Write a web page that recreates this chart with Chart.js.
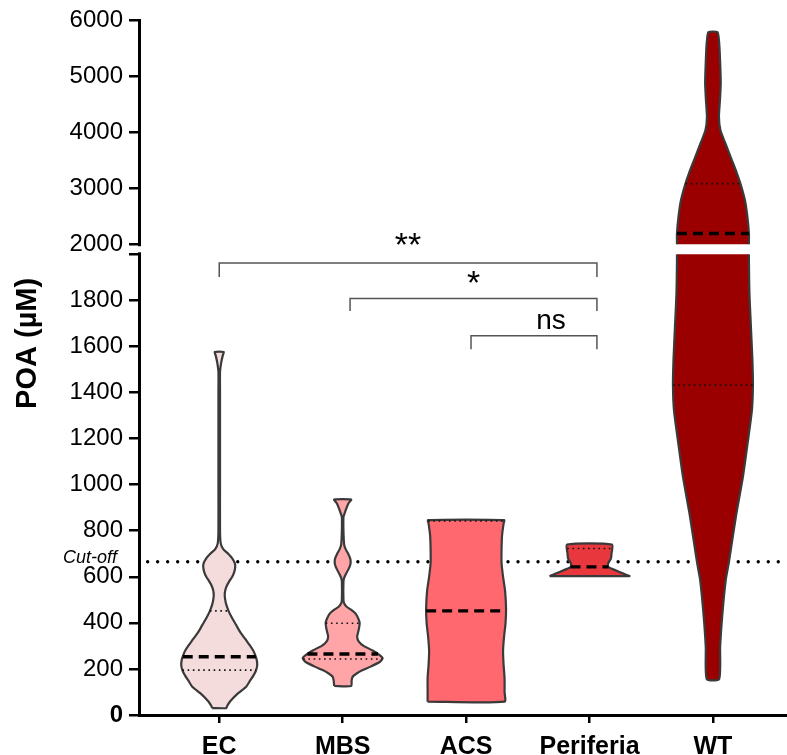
<!DOCTYPE html>
<html><head><meta charset="utf-8">
<script src="https://cdn.jsdelivr.net/npm/chart.js@4.4.1/dist/chart.umd.min.js"></script>
<style>html,body{margin:0;padding:0;background:#fff}</style>
</head><body>
<canvas id="c" width="787" height="755" style="display:block;width:787px;height:755px"></canvas>
<script>
// ---------- data ----------
const categories = ['EC', 'MBS', 'ACS', 'Periferia', 'WT'];

// violin outlines: values (µM) and relative half-widths (density)
const ecValues  = [30, 40, 60, 95, 123, 150, 170, 190, 215, 240, 260, 280, 300, 330, 360, 390, 420, 450, 480, 500, 520, 540, 560, 580, 600, 620, 643, 660, 680, 700, 720, 745, 800, 1000, 1200, 1400, 1490, 1530, 1560, 1576];
const ecWidths  = [7, 8, 11, 19, 27, 31, 34, 36.5, 38, 37.5, 36, 34, 31, 26, 21, 17, 13, 9.5, 7, 6, 5.5, 6, 7.5, 10, 13, 15, 16, 15.5, 13, 9, 4, 1.5, 0.8, 0.8, 0.8, 0.8, 0.8, 2, 3.5, 4.5];

const mbsValues = [126, 150, 166, 180, 195, 210, 230, 246, 260, 280, 300, 320, 340, 360, 380, 400, 420, 440, 455, 470, 485, 500, 580, 595, 610, 630, 650, 665, 680, 700, 720, 740, 800, 860, 870, 900, 920, 935];
const mbsWidths = [8.5, 9, 10, 14, 20, 28, 37, 40, 37, 30, 21, 16, 14.5, 15.5, 16.5, 17, 15.5, 13, 9, 4, 1.5, 0.8, 0.8, 1.5, 3, 5.5, 7.5, 8, 7.5, 5.5, 3, 1.5, 0.8, 0.8, 1.5, 4, 6, 8.5];

const acsValues = [58, 100, 160, 220, 280, 340, 400, 460, 540, 600, 660, 720, 780, 830, 846];
const acsWidths = [38.5, 38.5, 38.5, 37.5, 37, 38, 39.5, 40, 39, 37, 35.5, 35.5, 36, 37.5, 38];

const perValues = [603, 610, 620, 630, 638, 645, 655, 665, 680, 700, 740];
const perWidths = [40, 36, 30.5, 25, 20.5, 18.5, 18.5, 19.5, 21.5, 22, 22.5];

const wtValues  = [156, 296, 441, 586, 659, 730, 875, 1034, 1180, 1323, 1432, 1540, 1685, 1831, 1970, 2000, 2191, 2488, 2786, 3084, 3268, 3500, 3800, 4036, 4274, 4571, 4875, 5107, 5464, 5643, 5790];
const wtWidths  = [6.2, 7.2, 9.5, 12.8, 15.8, 18.3, 23.5, 30, 34.7, 39, 40, 39.5, 38, 36.5, 36, 36, 36, 34.5, 32, 27.5, 24, 19, 12.5, 7.5, 6, 7, 7.8, 7.5, 6.7, 6, 4.5];

const medians   = [253, 265, 452, 643, 2191];
const quartile1 = [195, 243, null, null, 1432];
const quartile3 = [452, 398, 842, 723, 3084];

const cutoff = 665;

// significance brackets (category positions and values)
const bracketFrom   = [1, 2.06, 3.04];
const bracketTo     = [4.06, 4.06, 4.06];
const bracketTop    = [1962, 1808, 1646];
const bracketDrop   = [1901, 1754, 1588];
const bracketLabels = ['**', '*', 'ns'];

const yLowerTicks = [0, 200, 400, 600, 800, 1000, 1200, 1400, 1600, 1800, 2000];
const yUpperTicks = [2000, 3000, 4000, 5000, 6000];
const axisBreak = 2000;

// ---------- styles ----------
const FONT = "'Liberation Sans', Arial, Helvetica, sans-serif";
const fills = ['#f5dcdc', '#ffa5a7', '#ff686e', '#e8383e', '#9b0000'];
const outlineColor = '#3a3a3a';
const WSCALE = 1 / 123.5;

const groups = [
  [ecValues, ecWidths], [mbsValues, mbsWidths], [acsValues, acsWidths],
  [perValues, perWidths], [wtValues, wtWidths]
];

function widthAt(vals, ws, v) {
  for (let i = 0; i < vals.length - 1; i++) {
    if (v >= vals[i] && v <= vals[i + 1]) {
      const t = (v - vals[i]) / (vals[i + 1] - vals[i]);
      return ws[i] + t * (ws[i + 1] - ws[i]);
    }
  }
  return v < vals[0] ? ws[0] : ws[ws.length - 1];
}

function outline(c, vals, ws, mode) {
  const left = vals.map((v, i) => ({x: c - ws[i] * WSCALE, y: v}));
  const right = vals.map((v, i) => ({x: c + ws[i] * WSCALE, y: v})).reverse();
  if (mode === 'openTop') return right.concat(left);
  if (mode === 'openBottom') return left.concat(right);
  return left.concat(right, [left[0]]);
}

const datasets = [];
const base = {showLine: true, pointRadius: 0, pointHoverRadius: 0, fill: false, tension: 0};

groups.forEach(([vals, ws], i) => {
  const c = i + 1;
  const violin = Object.assign({}, base, {
    fill: 'shape', backgroundColor: fills[i], borderColor: outlineColor,
    borderWidth: 2.2, tension: 0.2, order: 5, borderJoinStyle: 'round'
  });
  if (vals[vals.length - 1] <= axisBreak) {
    datasets.push(Object.assign({}, violin, {data: outline(c, vals, ws, 'closed'), yAxisID: 'y'}));
  } else {
    const li = vals.map((v, k) => k).filter(k => vals[k] <= axisBreak);
    const ui = vals.map((v, k) => k).filter(k => vals[k] >= axisBreak);
    datasets.push(Object.assign({}, violin, {
      data: outline(c, li.map(k => vals[k]), li.map(k => ws[k]), 'openTop'), yAxisID: 'y'}));
    datasets.push(Object.assign({}, violin, {
      data: outline(c, ui.map(k => vals[k]), ui.map(k => ws[k]), 'openBottom'), yAxisID: 'y2'}));
  }
});

function hLine(i, v, extra) {
  const [vals, ws] = groups[i];
  const w = widthAt(vals, ws, v) * WSCALE;
  return Object.assign({}, base, {
    data: [{x: i + 1 - w, y: v}, {x: i + 1 + w, y: v}],
    yAxisID: v > axisBreak ? 'y2' : 'y', borderColor: '#000'
  }, extra);
}
medians.forEach((m, i) => datasets.push(hLine(i, m, {borderWidth: 3.4, borderDash: [10, 6], order: 0})));
quartile1.concat(quartile3).forEach((q, k) => {
  if (q == null) return;
  datasets.push(hLine(k % 5, q, {borderWidth: 1.6, borderDash: [1.6, 3.6], borderColor: '#111', order: 1}));
});

// cut-off line
datasets.push(Object.assign({}, base, {
  data: [{x: 0.42, y: cutoff}, {x: 5.6, y: cutoff}], yAxisID: 'y',
  borderColor: '#000', borderWidth: 3.4, borderDash: [0.01, 10], borderCapStyle: 'round', order: 10
}));

// brackets
bracketFrom.forEach((f, i) => {
  datasets.push(Object.assign({}, base, {
    data: [{x: f, y: bracketDrop[i]}, {x: f, y: bracketTop[i]}, {x: bracketTo[i], y: bracketTop[i]}, {x: bracketTo[i], y: bracketDrop[i]}],
    yAxisID: 'y', borderColor: '#555', borderWidth: 1.5, order: 1
  }));
});

const annot = {
  id: 'annot',
  afterDatasetsDraw(chart) {
    const {ctx, chartArea, scales} = chart;
    const x = scales.x, y = scales.y, y2 = scales.y2;
    ctx.save();
    // axis break gap
    const pu = y2.getPixelForValue(axisBreak), pl = y.getPixelForValue(axisBreak);
    ctx.fillStyle = '#fff';
    ctx.fillRect(chartArea.left - 5, pu + 2, 10, pl - pu - 4);
    // bracket labels
    ctx.fillStyle = '#000';
    ctx.textAlign = 'center';
    ctx.textBaseline = 'alphabetic';
    bracketLabels.forEach((t, i) => {
      const mx = x.getPixelForValue((bracketFrom[i] + bracketTo[i]) / 2);
      const py = y.getPixelForValue(bracketTop[i]);
      if (t === 'ns') {
        ctx.font = '28px ' + FONT;
        ctx.fillText(t, mx + 17, py - 7);
      } else {
        ctx.font = '34px ' + FONT;
        ctx.fillText(t, mx, py - 4 - (i === 0 ? 3 : 0));
      }
    });
    // cut-off label
    ctx.font = 'italic 18px ' + FONT;
    ctx.textAlign = 'right';
    ctx.fillText('Cut-off', chartArea.left - 22, y.getPixelForValue(cutoff) + 1);
    // y title
    ctx.translate(28, chartArea.top + (chartArea.bottom - chartArea.top) * 0.465);
    ctx.rotate(-Math.PI / 2);
    ctx.textAlign = 'center';
    ctx.textBaseline = 'middle';
    ctx.font = 'bold 29px ' + FONT;
    ctx.fillText('POA (µM)', 0, 0);
    ctx.restore();
  }
};

const gridOpts = {drawOnChartArea: false, drawTicks: true, color: '#000', lineWidth: 2.5};
const borderOpts = {display: true, color: '#000', width: 3};
const yTickFont = (ctx) => ({family: FONT, size: 24, weight: ctx.tick && ctx.tick.value === 0 ? 'bold' : 'normal'});

new Chart(document.getElementById('c'), {
  type: 'scatter',
  data: {datasets},
  plugins: [annot],
  options: {
    responsive: false, animation: false, events: [],
    layout: {padding: {top: 20, left: 0, right: 0, bottom: 0}},
    plugins: {legend: {display: false}, tooltip: {enabled: false}},
    scales: {
      x: {
        type: 'linear', min: 0.35, max: 5.6,
        afterBuildTicks: s => { s.ticks = categories.map((_, i) => ({value: i + 1})); },
        afterFit: s => { s.height = 40; },
        grid: Object.assign({}, gridOpts, {tickLength: 8}),
        border: borderOpts,
        ticks: {
          callback: v => categories[Math.round(v) - 1] || '',
          font: {family: FONT, size: 25, weight: 'bold'}, color: '#000',
          padding: 9, maxRotation: 0, autoSkip: false
        }
      },
      y: {
        type: 'linear', position: 'left', stack: 'v', stackWeight: 461, min: 0, max: 2000,
        afterBuildTicks: s => { s.ticks = yLowerTicks.map(v => ({value: v})); },
        afterFit: s => { s.width = 139; },
        grid: Object.assign({}, gridOpts, {tickLength: 10}),
        border: borderOpts,
        ticks: {callback: v => (v === axisBreak ? '' : String(v)), font: yTickFont, color: '#000', padding: 6, autoSkip: false}
      },
      y2: {
        type: 'linear', position: 'left', stack: 'v', stackWeight: 234, min: 1821, max: 6000,
        afterBuildTicks: s => { s.ticks = yUpperTicks.map(v => ({value: v})); },
        afterFit: s => { s.width = 139; },
        grid: Object.assign({}, gridOpts, {tickLength: 10}),
        border: borderOpts,
        ticks: {callback: v => String(v), font: yTickFont, color: '#000', padding: 6, autoSkip: false}
      }
    }
  }
});
</script>
</body></html>
